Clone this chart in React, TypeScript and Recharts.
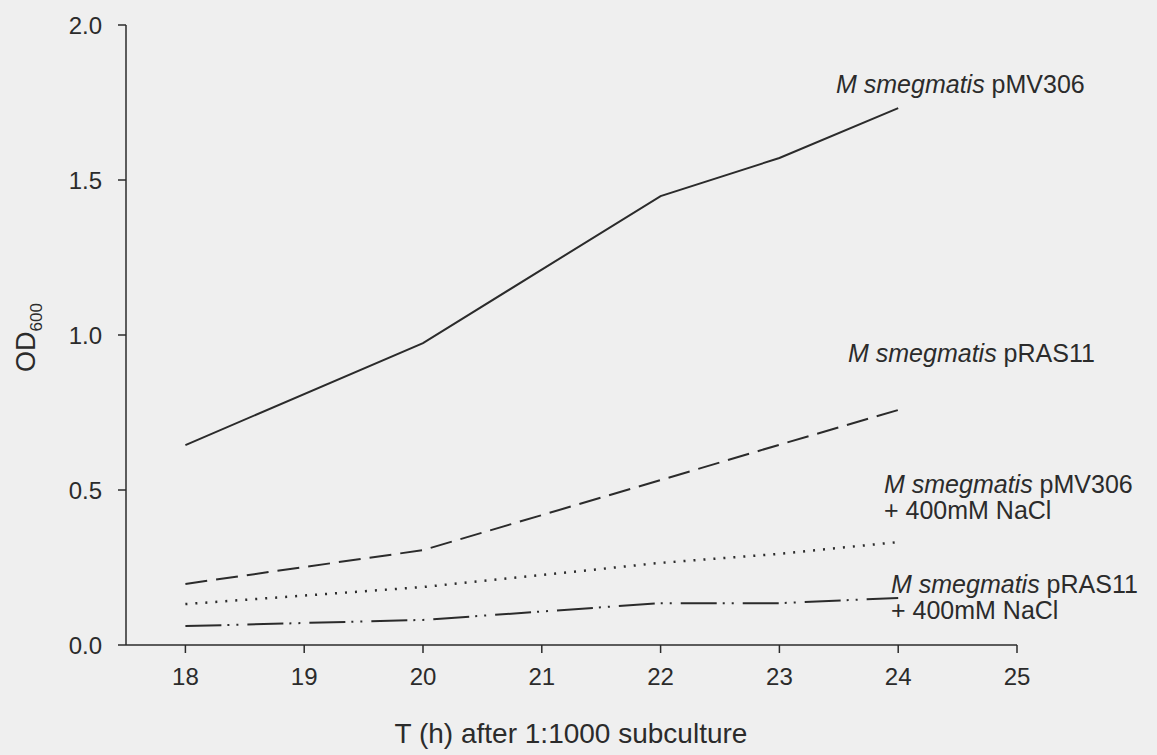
import { LineChart, Line, XAxis, YAxis } from "recharts";

// growth curves, OD600
const hours = [18, 20, 22, 23, 24];
const pMV306 = [0.645, 0.974, 1.448, 1.571, 1.732];
const pRAS11 = [0.197, 0.306, 0.532, 0.646, 0.758];
const pMV306NaCl = [0.132, 0.187, 0.265, 0.294, 0.332];
const pRAS11NaCl = [0.061, 0.081, 0.135, 0.135, 0.152];

const xTicks = [18, 19, 20, 21, 22, 23, 24, 25];
const yTicks = [0, 0.5, 1, 1.5, 2];

const data = hours.map((h, i) => ({
  t: h,
  pMV306: pMV306[i],
  pRAS11: pRAS11[i],
  pMV306NaCl: pMV306NaCl[i],
  pRAS11NaCl: pRAS11NaCl[i],
}));

const W = 1157;
const H = 755;
const ink = "#2b2b2b";
const font = "'Liberation Sans', Arial, sans-serif";

const SeriesLabel = ({ x, y, lines }: { x: number; y: number; lines: string[] }) => (
  <text x={x} y={y} fontSize={25} fill={ink} fontFamily={font}>
    <tspan fontStyle="italic">M smegmatis</tspan>
    <tspan> {lines[0]}</tspan>
    {lines[1] && (
      <tspan x={x} dy={26}>
        {lines[1]}
      </tspan>
    )}
  </text>
);

export default function App() {
  return (
    <div style={{ position: "absolute", left: 0, top: 0, width: W, height: H, background: "#efefef" }}>
      <LineChart width={W} height={H} data={data} margin={{ top: 25, right: 140, bottom: 0, left: 66 }}>
        <XAxis
          dataKey="t"
          type="number"
          domain={[17.5, 25]}
          ticks={xTicks}
          height={110}
          tickSize={8}
          tickMargin={15}
          stroke={ink}
          strokeWidth={1.5}
          tick={{ fill: ink, fontSize: 24, fontFamily: font }}
        />
        <YAxis
          type="number"
          domain={[0, 2]}
          ticks={yTicks}
          width={60}
          tickSize={8}
          tickMargin={16}
          stroke={ink}
          strokeWidth={1.5}
          tickFormatter={(v: number) => v.toFixed(1)}
          tick={{ fill: ink, fontSize: 24, fontFamily: font }}
        />
        <Line dataKey="pMV306" stroke={ink} strokeWidth={2} dot={false} isAnimationActive={false} />
        <Line dataKey="pRAS11" stroke={ink} strokeWidth={2} strokeDasharray="22 9" dot={false} isAnimationActive={false} />
        <Line dataKey="pMV306NaCl" stroke={ink} strokeWidth={2.5} strokeDasharray="2 8" dot={false} isAnimationActive={false} />
        <Line
          dataKey="pRAS11NaCl"
          stroke={ink}
          strokeWidth={2}
          strokeDasharray="36 6 2 7 2 9"
          dot={false}
          isAnimationActive={false}
        />
      </LineChart>
      <svg width={W} height={H} style={{ position: "absolute", left: 0, top: 0, pointerEvents: "none" }}>
        <SeriesLabel x={836} y={93} lines={["pMV306"]} />
        <SeriesLabel x={848} y={362} lines={["pRAS11"]} />
        <SeriesLabel x={884} y={493} lines={["pMV306", "+ 400mM NaCl"]} />
        <SeriesLabel x={891} y={593} lines={["pRAS11", "+ 400mM NaCl"]} />
        <text transform="translate(35, 372) rotate(-90)" fontSize={27} fill={ink} fontFamily={font}>
          OD
          <tspan fontSize={17} dy={7}>600</tspan>
        </text>
        <text x={571} y={743} textAnchor="middle" fontSize={28} fill={ink} fontFamily={font}>
          T (h) after 1:1000 subculture
        </text>
      </svg>
    </div>
  );
}
